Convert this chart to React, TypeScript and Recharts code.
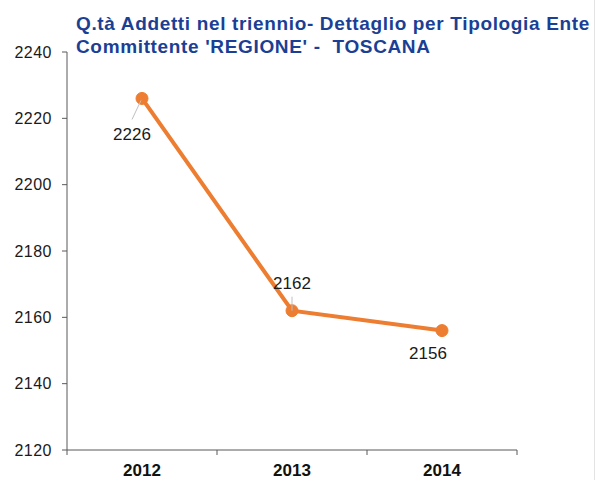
import { LineChart, Line, XAxis, YAxis, LabelList } from "recharts";

const years = ["2012", "2013", "2014"];
const addetti = [2226, 2162, 2156];
const yTicks = [2120, 2140, 2160, 2180, 2200, 2220, 2240];

// label placement relative to each point: text offset + leader line
const labelOffsets = [
  { dx: -10, dy: 36, leader: [-10, 21, -1, 2] },
  { dx: 0, dy: -27, leader: [0, -14, 0, 0] },
  { dx: -14, dy: 23, leader: null },
];

const data = years.map((year, i) => ({ year, value: addetti[i] }));

const AXIS = "#595959";
const ORANGE = "#ED7D31";
const FONT = "'Liberation Sans', Arial, sans-serif";

// eslint-disable-next-line @typescript-eslint/no-explicit-any
function YearTick(props: any) {
  const { x, y, payload, index, visibleTicksCount } = props;
  const half = 75;
  const last = index === (visibleTicksCount ?? years.length) - 1;
  return (
    <g>
      <line x1={x - half} y1={y} x2={x - half} y2={y + 5} stroke={AXIS} />
      {last && <line x1={x + half} y1={y} x2={x + half} y2={y + 5} stroke={AXIS} />}
      <text
        x={x}
        y={y + 26}
        textAnchor="middle"
        fontFamily={FONT}
        fontWeight="bold"
        fontSize={17}
        fill="#111"
      >
        {payload.value}
      </text>
    </g>
  );
}

// eslint-disable-next-line @typescript-eslint/no-explicit-any
function PointLabel(props: any) {
  const { x, y, value, index } = props;
  const off = labelOffsets[index];
  return (
    <g>
      {off.leader && (
        <line
          x1={x + off.leader[0]}
          y1={y + off.leader[1]}
          x2={x + off.leader[2]}
          y2={y + off.leader[3]}
          stroke="#bfbfbf"
          strokeWidth={1}
        />
      )}
      <text
        x={x + off.dx}
        y={y + off.dy}
        textAnchor="middle"
        dominantBaseline="central"
        fontFamily={FONT}
        fontSize={17}
        fill="#1a1a1a"
      >
        {value}
      </text>
    </g>
  );
}

export default function App() {
  return (
    <div
      style={{
        position: "absolute",
        left: 0,
        top: 0,
        width: 594,
        height: 480,
        background: "#fff",
        borderRight: "1px solid #e3e3e3",
      }}
    >
      <div
        style={{
          position: "absolute",
          left: 76,
          top: 12,
          fontFamily: FONT,
          fontWeight: "bold",
          fontSize: 19,
          lineHeight: "23px",
          color: "#1B3F95",
          letterSpacing: 0.65,
          whiteSpace: "nowrap",
        }}
      >
        Q.tà Addetti nel triennio- Dettaglio per Tipologia Ente
        <br />
        Committente 'REGIONE' - &nbsp;TOSCANA
      </div>
      <LineChart
        width={595}
        height={480}
        data={data}
        margin={{ top: 52, right: 78, bottom: 0, left: 0 }}
      >
        <XAxis
          dataKey="year"
          height={30}
          padding={{ left: 75, right: 75 }}
          axisLine={{ stroke: AXIS }}
          tickLine={false}
          tickSize={0}
          tickMargin={0}
          tick={<YearTick />}
          interval={0}
        />
        <YAxis
          width={67}
          domain={[2120, 2240]}
          ticks={yTicks}
          interval={0}
          axisLine={{ stroke: AXIS }}
          tickLine={{ stroke: AXIS }}
          tickSize={5}
          tickMargin={10}
          tick={{ fontFamily: FONT, fontSize: 16, fill: "#1a1a1a", letterSpacing: 0.5 }}
        />
        <Line
          type="linear"
          dataKey="value"
          stroke={ORANGE}
          strokeWidth={4}
          dot={{ r: 6, fill: ORANGE, stroke: ORANGE, strokeWidth: 1 }}
          isAnimationActive={false}
        >
          <LabelList dataKey="value" content={<PointLabel />} />
        </Line>
      </LineChart>
    </div>
  );
}
